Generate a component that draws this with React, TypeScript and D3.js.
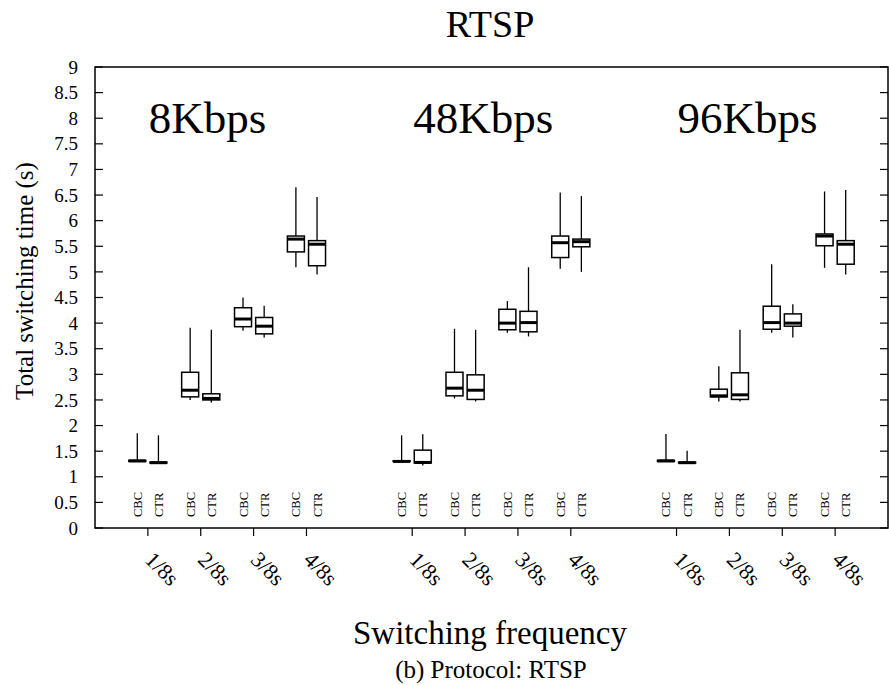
import React from "react";
import * as d3 from "d3";

const rates = ["8Kbps", "48Kbps", "96Kbps"];
const freqs = ["1/8s", "2/8s", "3/8s", "4/8s"];
const modes = ["CBC", "CTR"];
const yTicks = [0, 0.5, 1, 1.5, 2, 2.5, 3, 3.5, 4, 4.5, 5, 5.5, 6, 6.5, 7, 7.5, 8, 8.5, 9];

// per rate: [freq1 CBC, freq1 CTR, freq2 CBC, freq2 CTR, ...]
const whiskerLow = [
  [1.29, 1.26, 2.50, 2.45, 3.85, 3.72, 5.09, 4.95],
  [1.29, 1.22, 2.53, 2.47, 3.81, 3.74, 5.06, 5.00],
  [1.29, 1.26, 2.47, 2.47, 3.81, 3.72, 5.08, 4.95],
];
const quart1 = [
  [1.30, 1.27, 2.56, 2.50, 3.93, 3.79, 5.39, 5.12],
  [1.30, 1.27, 2.58, 2.51, 3.87, 3.83, 5.28, 5.49],
  [1.30, 1.27, 2.56, 2.51, 3.88, 3.94, 5.51, 5.15],
];
const medians = [
  [1.31, 1.275, 2.69, 2.53, 4.08, 3.94, 5.64, 5.54],
  [1.30, 1.28, 2.73, 2.69, 4.00, 4.01, 5.57, 5.59],
  [1.31, 1.275, 2.58, 2.60, 4.01, 4.00, 5.70, 5.54],
];
const quart3 = [
  [1.32, 1.285, 3.04, 2.62, 4.30, 4.11, 5.70, 5.61],
  [1.31, 1.52, 3.04, 2.99, 4.27, 4.23, 5.70, 5.64],
  [1.32, 1.285, 2.71, 3.03, 4.33, 4.18, 5.74, 5.61],
];
const whiskerHigh = [
  [1.85, 1.81, 3.91, 3.87, 4.50, 4.34, 6.65, 6.46],
  [1.81, 1.83, 3.89, 3.87, 4.43, 5.09, 6.55, 6.48],
  [1.835, 1.51, 3.16, 3.87, 5.15, 4.37, 6.57, 6.60],
];

const W = 889;
const H = 685;
const FONT = "Liberation Serif, Times New Roman, DejaVu Serif, serif";
const ts = (size: number): React.CSSProperties => ({ fontFamily: FONT, fontSize: size });

export default function App() {
  const x = d3.scaleLinear().domain([0, 15]).range([95, 888]);
  const y = d3.scaleLinear().domain([0, 9]).range([528, 67]);
  const slot = x(1) - x(0);
  const offset = slot * 0.2;
  const boxW = 17;

  const boxes: any[] = [];
  const tickPos: { pos: number; label: string }[] = [];
  rates.forEach((r, ri) => {
    freqs.forEach((f, fi) => {
      const pos = ri * 5 + fi + 1;
      tickPos.push({ pos, label: f });
      modes.forEach((m, mi) => {
        const k = fi * 2 + mi;
        const cx = x(pos) + (mi === 0 ? -offset : offset);
        boxes.push({
          key: `${ri}-${fi}-${mi}`,
          cx,
          mode: m,
          lo: whiskerLow[ri][k],
          q1: quart1[ri][k],
          med: medians[ri][k],
          q3: quart3[ri][k],
          hi: whiskerHigh[ri][k],
        });
      });
    });
  });

  return (
    <svg
      width={W}
      height={H}
      style={{ position: "absolute", left: 0, top: 0, background: "#fff", fontFamily: FONT }}
    >
      <rect x={0} y={0} width={W} height={H} fill="#fff" />
      <text x={490} y={37} style={ts(38)} textAnchor="middle" fill="#000">RTSP</text>

      {rates.map((r, ri) => (
        <text key={r} x={x(ri * 5 + 1) + 1} y={133} style={ts(45)} fill="#000">{r}</text>
      ))}

      {yTicks.map((t) => (
        <g key={t}>
          <line x1={x(0)} x2={x(0) + 8} y1={y(t)} y2={y(t)} stroke="#000" strokeWidth={1.2} />
          <line x1={x(15)} x2={x(15) - 8} y1={y(t)} y2={y(t)} stroke="#000" strokeWidth={1.2} />
          <text x={78} y={y(t)} dy="0.35em" style={ts(19)} textAnchor="end" fill="#000">{String(t)}</text>
        </g>
      ))}

      {tickPos.map((t) => (
        <g key={t.pos}>
          <line x1={x(t.pos)} x2={x(t.pos)} y1={y(0)} y2={y(0) + 8} stroke="#000" strokeWidth={1.2} />
          <text
            transform={`translate(${x(t.pos) - 4},${561}) rotate(45)`}
            style={ts(22)}
            fill="#000"
          >{t.label}</text>
        </g>
      ))}

      {boxes.map((b) => (
        <g key={b.key}>
          <line x1={b.cx} x2={b.cx} y1={y(b.hi)} y2={y(b.lo)} stroke="#000" strokeWidth={1.3} />
          <rect
            x={b.cx - boxW / 2}
            y={y(b.q3)}
            width={boxW}
            height={Math.max(0.5, y(b.q1) - y(b.q3))}
            fill="#fff"
            stroke="#000"
            strokeWidth={1.5}
          />
          <line x1={b.cx - boxW / 2} x2={b.cx + boxW / 2} y1={y(b.med)} y2={y(b.med)} stroke="#000" strokeWidth={3} />
          <text
            transform={`translate(${b.cx + 4.5},${517}) rotate(-90)`}
            style={ts(12.5)}
            fill="#000"
          >{b.mode}</text>
        </g>
      ))}

      <rect x={x(0)} y={y(9)} width={x(15) - x(0)} height={y(0) - y(9)} fill="none" stroke="#000" strokeWidth={1.5} />

      <text transform={`translate(33,281) rotate(-90)`} style={ts(25)} textAnchor="middle" fill="#000">Total switching time (s)</text>
      <text x={490} y={644} style={ts(33)} textAnchor="middle" fill="#000">Switching frequency</text>
      <text x={491} y={678} style={ts(25)} textAnchor="middle" fill="#000">(b) Protocol: RTSP</text>
    </svg>
  );
}
